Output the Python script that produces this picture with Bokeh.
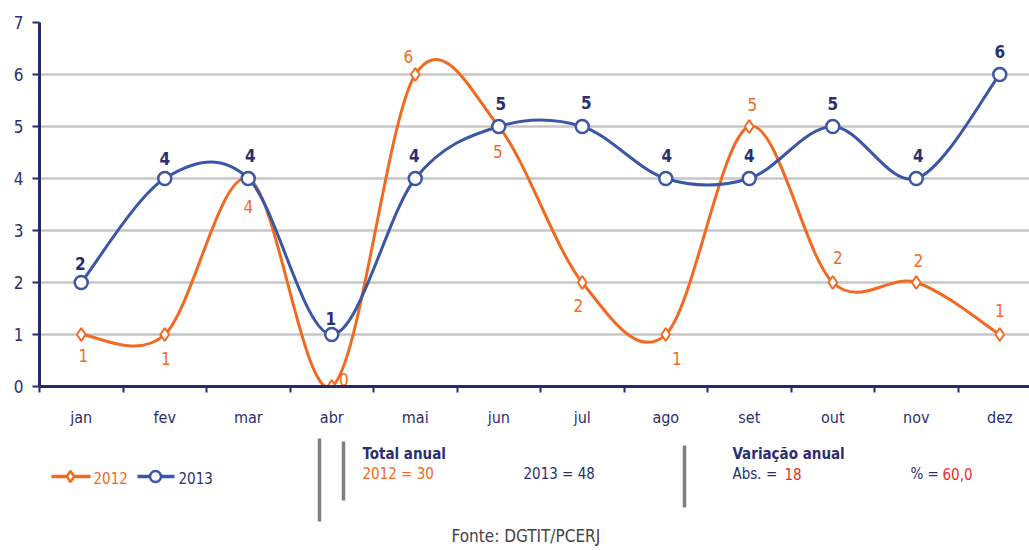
import numpy as np
from bokeh.plotting import figure
from bokeh.layouts import column
from bokeh.models import FixedTicker, ColumnDataSource, Range1d
from bokeh.core.properties import value
from bokeh.embed import file_html
from bokeh.resources import INLINE

# ---------------- data ----------------
months = ["jan", "fev", "mar", "abr", "mai", "jun", "jul", "ago", "set", "out", "nov", "dez"]
y2012 = [1, 1, 4, 0, 6, 5, 2, 1, 5, 2, 2, 1]
y2013 = [2, 4, 4, 1, 4, 5, 5, 4, 4, 5, 4, 6]
y_ticks = [0, 1, 2, 3, 4, 5, 6, 7]
series_names = ["2012", "2013"]
total_2012 = 30
total_2013 = 48
var_abs = 18
var_pct = "60,0"

# ---------------- styles ----------------
FONT = "DejaVu Sans Condensed"
ORANGE = "#f26a21"
BLUE = "#3b56a5"
NAVY = "#2c2e72"
AXIS = "#262a6c"
RED = "#ec2a2e"
GRID = "#c6c6c6"
BAR = "#7f7f7f"

# label offsets in screen px (dx, dy; +dy = down)
off12 = [(2, 21), (1, 24), (0, 28), (12, -7), (-7, -18), (-1, 25),
         (-4, 23), (11, 24), (3, -22), (5, -25), (2, -22), (0, -24)]
off13 = [(-1, -19), (0, -20), (2, -23), (-1, -16), (-1, -23), (2, -23),
         (4, -24), (1, -23), (0, -23), (0, -23), (2, -23), (0, -23)]

xs = np.arange(len(months), dtype=float)

TOP_H = 436
p = figure(width=1029, height=TOP_H, x_range=(-0.5, 11.356), y_range=(0, 7),
           output_backend="svg", toolbar_location=None,
           min_border_left=39, min_border_right=0, min_border_top=22,
           min_border_bottom=TOP_H - 22 - 364)
p.outline_line_color = None
p.background_fill_color = "white"
p.xgrid.grid_line_color = None
p.ygrid.grid_line_color = GRID
p.ygrid.grid_line_width = 2.5
p.ygrid.ticker = FixedTicker(ticks=y_ticks)

# y axis
p.yaxis.ticker = FixedTicker(ticks=y_ticks)
p.yaxis.axis_line_color = AXIS
p.yaxis.axis_line_width = 3
p.yaxis.major_tick_line_color = AXIS
p.yaxis.major_tick_line_width = 2
p.yaxis.major_tick_out = 7
p.yaxis.major_tick_in = 0
p.yaxis.minor_tick_line_color = None
p.yaxis.major_label_text_font = FONT
p.yaxis.major_label_text_font_size = "17px"
p.yaxis.major_label_text_color = NAVY
p.yaxis.major_label_standoff = 9

# x axis
p.xaxis.ticker = FixedTicker(ticks=list(xs), minor_ticks=[k - 0.5 for k in range(13)])
p.xaxis.major_label_overrides = {i: m for i, m in enumerate(months)}
p.xaxis.axis_line_color = AXIS
p.xaxis.axis_line_width = 3
p.xaxis.major_tick_out = 0
p.xaxis.major_tick_in = 0
p.xaxis.major_tick_line_color = None
p.xaxis.minor_tick_line_color = AXIS
p.xaxis.minor_tick_line_width = 2
p.xaxis.minor_tick_out = 6
p.xaxis.minor_tick_in = 0
p.xaxis.major_label_text_font = FONT
p.xaxis.major_label_text_font_size = "16px"
p.xaxis.major_label_text_color = NAVY
p.xaxis.major_label_standoff = 15


def bezier_source(xv, yv):
    n = len(xv)
    P = np.column_stack([xv, np.asarray(yv, dtype=float)])
    d = dict(x0=[], y0=[], x1=[], y1=[], cx0=[], cy0=[], cx1=[], cy1=[])
    for i in range(n - 1):
        pm = P[max(i - 1, 0)]
        p0 = P[i]
        p1 = P[i + 1]
        p2 = P[min(i + 2, n - 1)]
        c0 = p0 + (p1 - pm) / 6.0
        c1 = p1 - (p2 - p0) / 6.0
        d["x0"].append(p0[0]); d["y0"].append(p0[1])
        d["x1"].append(p1[0]); d["y1"].append(p1[1])
        d["cx0"].append(c0[0]); d["cy0"].append(c0[1])
        d["cx1"].append(c1[0]); d["cy1"].append(c1[1])
    return ColumnDataSource(d)


p.bezier(source=bezier_source(xs, y2012), x0="x0", y0="y0", x1="x1", y1="y1",
         cx0="cx0", cy0="cy0", cx1="cx1", cy1="cy1", line_color=ORANGE, line_width=3)
p.bezier(source=bezier_source(xs, y2013), x0="x0", y0="y0", x1="x1", y1="y1",
         cx0="cx0", cy0="cy0", cx1="cx1", cy1="cy1", line_color=BLUE, line_width=3)

p.scatter(x=xs, y=y2012, marker="diamond", size=13, fill_color="white",
          line_color=ORANGE, line_width=2)
p.scatter(x=xs, y=y2013, marker="circle", size=13, fill_color="white",
          line_color=BLUE, line_width=2.5)

# data labels
for i in range(len(months)):
    p.text(x=[xs[i]], y=[y2012[i]], text=[str(y2012[i])], x_offset=off12[i][0], y_offset=off12[i][1],
           text_align="center", text_baseline="middle", text_color=ORANGE,
           text_font=value(FONT), text_font_size="17px")
    p.text(x=[xs[i]], y=[y2013[i]], text=[str(y2013[i])], x_offset=off13[i][0], y_offset=off13[i][1],
           text_align="center", text_baseline="middle", text_color=NAVY,
           text_font=value(FONT), text_font_size="17px", text_font_style="bold")

# ---------------- lower panel (pixel coordinates): legend, totals, source ----------------
q = figure(width=1029, height=550 - TOP_H, x_range=Range1d(39, 1029), y_range=Range1d(550, TOP_H),
           output_backend="svg", toolbar_location=None,
           min_border_left=39, min_border_right=0, min_border_top=0, min_border_bottom=0)
q.axis.visible = False
q.grid.grid_line_color = None
q.outline_line_color = None

# legend samples
q.segment(x0=[51, 137], y0=[476, 476], x1=[90, 174], y1=[476, 476],
          line_color=[ORANGE, BLUE], line_width=3.5)
q.scatter(x=[70], y=[476], marker="diamond", size=11, fill_color="white", line_color=ORANGE, line_width=2.5)
q.scatter(x=[155], y=[476], marker="circle", size=11, fill_color="white", line_color=BLUE, line_width=2.5)

# separators
q.segment(x0=[319, 343, 684], y0=[438, 441, 445], x1=[319, 343, 684], y1=[521, 500, 507],
          line_color=BAR, line_width=3.5)


def lab(text, px, py, color, bold=False, size="14px"):
    q.text(x=[px], y=[py], text=[text], text_color=color, text_font=value(FONT),
           text_font_size=size, text_font_style="bold" if bold else "normal",
           text_baseline="middle", text_align="left")


lab(series_names[0], 93, 477, ORANGE, size="15px")
lab(series_names[1], 178, 477, NAVY, size="15px")
lab("Total anual", 362, 453, NAVY, bold=True, size="15px")
lab(f"2012 = {total_2012}", 362, 473, ORANGE, size="15px")
lab(f"2013 = {total_2013}", 523, 473, NAVY, size="15px")
lab("Variação anual", 732, 453, NAVY, bold=True, size="15px")
lab("Abs. =", 732, 473, NAVY, size="15px")
lab(str(var_abs), 784, 473, RED, size="15px")
lab("% =", 910, 473, NAVY, size="15px")
lab(var_pct, 942, 473, RED, size="15px")
lab("Fonte: DGTIT/PCERJ", 451, 535, "#444444", size="17px")

layout = column(p, q, spacing=0)
open("out.html", "w").write(file_html(layout, INLINE))
